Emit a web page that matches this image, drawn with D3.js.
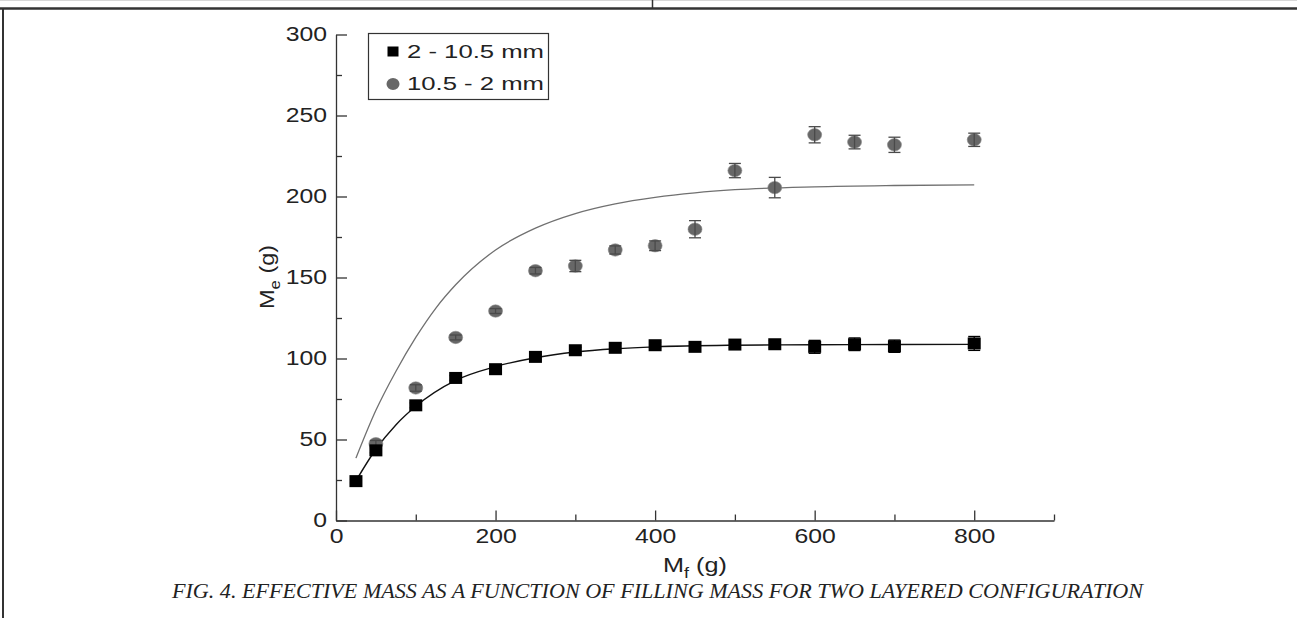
<!DOCTYPE html>
<html>
<head>
<meta charset="utf-8">
<script src="https://cdn.jsdelivr.net/npm/d3@7"></script>
<style>
  body{margin:0;background:#fff;}
  svg{display:block;}
</style>
</head>
<body>
<svg id="chart"></svg>
<script>
var w=1297;
var h=618;
var sx=1.27; // the original text is drawn wide

// filling mass (g)
var mfSquares=[25,50,100,150,200,250,300,350,400,450,500,550,600,650,700,800];
var meSquares=[24.3,43.3,71.1,88,93.4,101,105.1,106.6,108.2,107.2,108.6,108.8,107.2,108.8,107.6,109.3];
var errSquares=[1.2,1.5,1.5,1.5,1.5,1.5,1.8,2.8,1.8,2,2,2.2,4,3.9,3.8,4.3];

var mfCircles=[50,100,150,200,250,300,350,400,450,500,550,600,650,700,800];
var meCircles=[47.4,81.8,113,129.3,154.2,157.1,167,169.6,179.8,216,205.5,238.1,233.6,231.9,235];
var errCircles=[2,2,1.5,1.5,2,3.5,2.5,3,5.3,4.4,6.3,5,4.2,4.7,4.1];

// fitted curves
var fitBlackX=[25,50,75,100,150,200,250,300,350,400,500,600,700,800];
var fitBlackY=[24.5,44,59,70.5,86.5,95,100.5,104,106,107.2,108.2,108.5,108.6,108.7];
var fitGrayX=[25,50,75,100,125,150,200,250,300,350,400,450,500,600,700,800];
var fitGrayY=[38.5,68,92,113,131,145.5,167,180.5,189.5,195.5,199.5,202.3,204.2,206,206.8,207.2];

var xMajor=[0,200,400,600,800];
var xMinor=[100,300,500,700,900];
var yMajor=[0,50,100,150,200,250,300];
var yMinor=[25,75,125,175,225,275];

var legendLabels=["2 - 10.5 mm","10.5 - 2 mm"];
var caption="FIG. 4. EFFECTIVE MASS AS A FUNCTION OF FILLING MASS FOR TWO LAYERED CONFIGURATION";

var x=d3.scaleLinear().domain([0,900]).range([336,1054]);
var y=d3.scaleLinear().domain([0,300]).range([520.5,34.5]);

var svg=d3.select("#chart").attr("width",w).attr("height",h);
var font="Liberation Sans, Arial, Helvetica, sans-serif";

function zip(xs,ys,es){
  return xs.map(function(v,i){return {x:v,y:ys[i],e:es?es[i]:0};});
}

// page frame
svg.append("line").attr("x1",0).attr("x2",w).attr("y1",0.5).attr("y2",0.5)
  .attr("stroke","#d8d8d8").attr("stroke-width",1);
svg.append("line").attr("x1",0).attr("x2",w).attr("y1",8.5).attr("y2",8.5)
  .attr("stroke","#333").attr("stroke-width",2.5);
svg.append("line").attr("x1",652.5).attr("x2",652.5).attr("y1",0).attr("y2",8)
  .attr("stroke","#333").attr("stroke-width",1.5);
svg.append("line").attr("x1",3).attr("x2",3).attr("y1",8).attr("y2",h)
  .attr("stroke","#333").attr("stroke-width",2);

// axes
function styleAxis(g){
  g.selectAll("path,line").attr("stroke","#333").attr("stroke-width",1.3);
  g.selectAll("text").attr("fill","#222").attr("font-family",font).attr("font-size","19.5px");
}

var gy=svg.append("g").attr("transform","translate("+x(0)+",0)")
  .call(d3.axisLeft(y).tickValues(yMajor).tickSizeInner(-11).tickSizeOuter(0).tickPadding(9));
styleAxis(gy);
gy.selectAll("text").attr("x",-9/sx).attr("transform","scale("+sx+",1)");
var gy2=svg.append("g").attr("transform","translate("+x(0)+",0)")
  .call(d3.axisLeft(y).tickValues(yMinor).tickSizeInner(-6).tickSizeOuter(0).tickFormat(""));
styleAxis(gy2);
gy2.select(".domain").remove();

var gx=svg.append("g").attr("transform","translate(0,"+y(0)+")")
  .call(d3.axisBottom(x).tickValues(xMajor).tickSizeInner(-10).tickSizeOuter(0).tickPadding(9));
styleAxis(gx);
gx.selectAll("text").attr("transform","scale("+sx+",1)");
var gx2=svg.append("g").attr("transform","translate(0,"+y(0)+")")
  .call(d3.axisBottom(x).tickValues(xMinor).tickSizeInner(-6).tickSizeOuter(0).tickFormat(""));
styleAxis(gx2);
gx2.select(".domain").remove();

// axis titles
var xt=svg.append("text").attr("transform","translate(663,572) scale(1.2,1)")
  .attr("font-family",font).attr("font-size","21px").attr("fill","#222");
xt.append("tspan").text("M");
xt.append("tspan").attr("font-size","15px").attr("dy",6).text("f");
xt.append("tspan").attr("dy",-6).text(" (g)");

var yt=svg.append("text").attr("transform","translate(274,309) rotate(-90) scale(1.12,1)")
  .attr("font-family",font).attr("font-size","21px").attr("fill","#222");
yt.append("tspan").text("M");
yt.append("tspan").attr("font-size","15px").attr("dy",6).text("e");
yt.append("tspan").attr("dy",-6).text(" (g)");

// fit curves
var line=d3.line().x(function(d){return x(d.x);}).y(function(d){return y(d.y);}).curve(d3.curveMonotoneX);
svg.append("path").datum(zip(fitGrayX,fitGrayY)).attr("d",line)
  .attr("fill","none").attr("stroke","#707070").attr("stroke-width",1.3);
svg.append("path").datum(zip(fitBlackX,fitBlackY)).attr("d",line)
  .attr("fill","none").attr("stroke","#111").attr("stroke-width",1.4);

// error bars
function errorBars(data,color){
  var g=svg.append("g").attr("stroke",color).attr("stroke-width",1.3);
  g.selectAll(".eb").data(data).enter().append("line")
    .attr("x1",function(d){return x(d.x);}).attr("x2",function(d){return x(d.x);})
    .attr("y1",function(d){return y(d.y-d.e);}).attr("y2",function(d){return y(d.y+d.e);});
  g.selectAll(".cap1").data(data).enter().append("line")
    .attr("x1",function(d){return x(d.x)-6;}).attr("x2",function(d){return x(d.x)+6;})
    .attr("y1",function(d){return y(d.y+d.e);}).attr("y2",function(d){return y(d.y+d.e);});
  g.selectAll(".cap2").data(data).enter().append("line")
    .attr("x1",function(d){return x(d.x)-6;}).attr("x2",function(d){return x(d.x)+6;})
    .attr("y1",function(d){return y(d.y-d.e);}).attr("y2",function(d){return y(d.y-d.e);});
}

var circles=zip(mfCircles,meCircles,errCircles);
var squares=zip(mfSquares,meSquares,errSquares);

svg.selectAll("ellipse.pt").data(circles).enter().append("ellipse").attr("class","pt")
  .attr("cx",function(d){return x(d.x);}).attr("cy",function(d){return y(d.y);})
  .attr("rx",7).attr("ry",6.2).attr("fill","#676767").attr("stroke","#8a8a8a").attr("stroke-width",0.6);
errorBars(circles,"#4a4a4a");

svg.selectAll("rect.pt").data(squares).enter().append("rect").attr("class","pt")
  .attr("x",function(d){return x(d.x)-6.5;}).attr("y",function(d){return y(d.y)-6;})
  .attr("width",13).attr("height",12).attr("fill","#000");
errorBars(squares,"#000");

// legend
svg.append("rect").attr("x",368.5).attr("y",33.5).attr("width",180).attr("height",66)
  .attr("fill","#fff").attr("stroke","#333").attr("stroke-width",1.2);
svg.append("rect").attr("x",387.5).attr("y",46.5).attr("width",11).attr("height",10).attr("fill","#000");
svg.append("ellipse").attr("cx",393).attr("cy",84).attr("rx",6.5).attr("ry",6).attr("fill","#676767");
svg.selectAll("text.leg").data(legendLabels).enter().append("text").attr("class","leg")
  .attr("x",407).attr("y",function(d,i){return 58.3+i*31.5;})
  .attr("font-family",font).attr("font-size","18.8px").attr("fill","#222")
  .attr("textLength",137).attr("lengthAdjust","spacingAndGlyphs")
  .text(function(d){return d;});

// caption
svg.append("text").attr("x",172).attr("y",598)
  .attr("font-family","Liberation Serif, Times New Roman, serif").attr("font-style","italic")
  .attr("font-size","20px").attr("fill","#222")
  .attr("textLength",971).attr("lengthAdjust","spacingAndGlyphs")
  .text(caption);
</script>
</body>
</html>
